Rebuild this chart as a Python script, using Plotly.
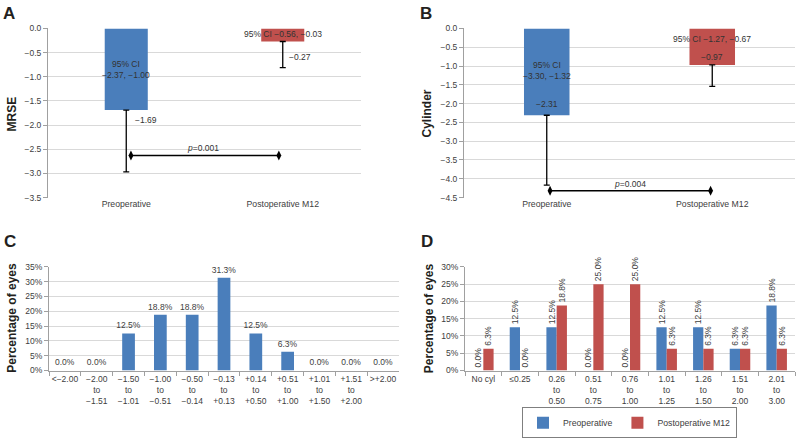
import plotly.graph_objects as go

# ---------------- data ----------------
groups = ["Preoperative", "Postoperative M12"]

mrse_mean = [-1.69, -0.27]
mrse_err_minus = [1.28, 0.54]
mrse_ci = ["95% CI<br>\u22122.37, \u22121.00", "95% CI \u22120.56, \u22120.03"]
mrse_p_text = "<i>p</i>=0.001"
mrse_p_y = -2.63

cyl_mean = [-2.31, -0.97]
cyl_err_minus = [1.86, 0.57]
cyl_ci = ["95% CI<br>\u22123.30, \u22121.32", "95% CI \u22121.27, \u22120.67"]
cyl_p_text = "<i>p</i>=0.004"
cyl_p_y = -4.32

sphere_bins = ["<\u22122.00", "\u22122.00<br>to<br>\u22121.51", "\u22121.50<br>to<br>\u22121.01",
               "\u22121.00<br>to<br>\u22120.51", "\u22120.50<br>to<br>\u22120.14",
               "\u22120.13<br>to<br>+0.13", "+0.14<br>to<br>+0.50", "+0.51<br>to<br>+1.00",
               "+1.01<br>to<br>+1.50", "+1.51<br>to<br>+2.00", ">+2.00"]
sphere_pct = [0.0, 0.0, 12.5, 18.8, 18.8, 31.3, 12.5, 6.3, 0.0, 0.0, 0.0]

cyl_bins = ["No cyl", "\u22640.25", "0.26<br>to<br>0.50", "0.51<br>to<br>0.75",
            "0.76<br>to<br>1.00", "1.01<br>to<br>1.25", "1.26<br>to<br>1.50",
            "1.51<br>to<br>2.00", "2.01<br>to<br>3.00"]
cyl_pre_pct = [0.0, 12.5, 12.5, 0.0, 0.0, 12.5, 12.5, 6.3, 18.8]
cyl_post_pct = [6.3, 0.0, 18.8, 25.0, 25.0, 6.3, 6.3, 6.3, 6.3]

# ---------------- style ----------------
BLUE = "#4A7EBB"
RED = "#C0504D"
TXT = "#404040"
GRID = "#D9D9D9"
AXL = "#A0A0A0"
FONT = "Liberation Sans, Arial, sans-serif"
W, H = 796, 440

def px(x):
    return x / W

def py(y):
    return 1 - y / H

fig = go.Figure()

xpos = [0, 1]

# Panel A
fig.add_trace(go.Bar(x=xpos, y=mrse_mean, width=0.275, marker_color=[BLUE, RED],
                     marker_line_width=0, showlegend=False,
                     error_y=dict(type="data", symmetric=False, array=[0, 0],
                                  arrayminus=mrse_err_minus, color="#000000",
                                  thickness=1.3, width=3),
                     xaxis="x", yaxis="y"))
fig.add_trace(go.Scatter(x=[0.03, 0.975], y=[mrse_p_y, mrse_p_y], mode="lines+markers",
                         line=dict(color="#000000", width=1.3),
                         marker=dict(symbol="diamond-tall", size=7, color="#000000"),
                         showlegend=False, xaxis="x", yaxis="y"))

# Panel B
fig.add_trace(go.Bar(x=xpos, y=cyl_mean, width=0.275, marker_color=[BLUE, RED],
                     marker_line_width=0, showlegend=False,
                     error_y=dict(type="data", symmetric=False, array=[0, 0],
                                  arrayminus=cyl_err_minus, color="#000000",
                                  thickness=1.3, width=3),
                     xaxis="x2", yaxis="y2"))
fig.add_trace(go.Scatter(x=[0.02, 0.99], y=[cyl_p_y, cyl_p_y], mode="lines+markers",
                         line=dict(color="#000000", width=1.3),
                         marker=dict(symbol="diamond-tall", size=7, color="#000000"),
                         showlegend=False, xaxis="x2", yaxis="y2"))

barfont = dict(size=8.5, color=TXT, family=FONT)

# Panel C
fig.add_trace(go.Bar(x=sphere_bins, y=sphere_pct, width=0.4, marker_color=BLUE,
                     marker_line_width=0, showlegend=False,
                     texttemplate="%{y:.1f}%", textposition="outside", cliponaxis=False,
                     constraintext="none", textfont=barfont,
                     xaxis="x3", yaxis="y3"))

# Panel D
fig.add_trace(go.Bar(x=cyl_bins, y=cyl_pre_pct, name="Preoperative", marker_color=BLUE,
                     marker_line_width=0,
                     texttemplate="%{y:.1f}%", textposition="outside", textangle=-90,
                     cliponaxis=False, constraintext="none", textfont=barfont,
                     xaxis="x4", yaxis="y4"))
fig.add_trace(go.Bar(x=cyl_bins, y=cyl_post_pct, name="Postoperative M12", marker_color=RED,
                     marker_line_width=0,
                     texttemplate="%{y:.1f}%", textposition="outside", textangle=-90,
                     cliponaxis=False, constraintext="none", textfont=barfont,
                     xaxis="x4", yaxis="y4"))

tickfont = dict(size=8.5, color=TXT, family=FONT)
catfont = dict(size=8.7, color=TXT, family=FONT)

def yax(domain, rng, dtick, fmt, suffix="", anchor="x"):
    return dict(domain=domain, range=rng, dtick=dtick, tickformat=fmt, ticksuffix=suffix,
                showgrid=True, gridcolor=GRID, gridwidth=1, zeroline=False,
                showline=True, linecolor=AXL, linewidth=1, ticks="outside", ticklen=4,
                tickcolor=AXL, tickfont=tickfont, anchor=anchor, fixedrange=True)

dom_yAB = [py(197), py(24)]
dom_yCD = [py(374), py(268)]
dom_xA = [px(48), px(361)]
dom_xB = [px(464), px(795)]
dom_xC = [px(49), px(399)]
dom_xD = [px(465), px(795)]

def xnum(domain, anchor):
    return dict(domain=domain, range=[-0.5, 1.5], tickvals=xpos, ticktext=groups,
                showgrid=False, zeroline=False, showline=False, ticks="",
                tickfont=catfont, anchor=anchor, fixedrange=True)

def xtop(domain, overl, anchor):
    return dict(domain=domain, range=[-0.5, 1.5], overlaying=overl, side="top",
                tickvals=[0.5], ticks="inside", ticklen=3, tickcolor=AXL,
                showticklabels=False, showgrid=False, zeroline=False,
                showline=True, linecolor=AXL, linewidth=1, anchor=anchor, fixedrange=True)

def xcat(domain, anchor):
    return dict(domain=domain, type="category", showgrid=False, zeroline=False,
                showline=True, linecolor=AXL, linewidth=1, ticks="outside", ticklen=4,
                tickcolor=AXL, tickson="boundaries", tickfont=tickfont, tickangle=0,
                anchor=anchor, fixedrange=True)

fig.update_layout(
    width=W, height=H, margin=dict(l=0, r=0, t=0, b=0),
    paper_bgcolor="white", plot_bgcolor="white",
    font=dict(family=FONT, color=TXT, size=9),
    barmode="group", bargap=0.44, bargroupgap=0,
    xaxis=xnum(dom_xA, "y"),
    yaxis=yax(dom_yAB, [-3.5, 0], 0.5, ".1f", anchor="x"),
    xaxis2=xnum(dom_xB, "y2"),
    yaxis2=yax(dom_yAB, [-4.5, 0], 0.5, ".1f", anchor="x2"),
    xaxis3=xcat(dom_xC, "y3"),
    yaxis3=yax(dom_yCD, [0, 35], 5, "d", "%", anchor="x3"),
    xaxis4=xcat(dom_xD, "y4"),
    yaxis4=yax(dom_yCD, [0, 30], 5, "d", "%", anchor="x4"),
    xaxis5=xtop(dom_xA, "x", "y"),
    xaxis6=xtop(dom_xB, "x2", "y2"),
    legend=dict(orientation="h", x=px(629.5), xanchor="center", y=py(427.5), yanchor="middle",
                bordercolor="#7F7F7F", borderwidth=1, bgcolor="white",
                font=dict(size=8.7, color=TXT, family=FONT), itemwidth=30,
                tracegroupgap=0),
    showlegend=True,
)

ann = []
# panel letters
for letter, x, y in [("A", 1, 9), ("B", 418, 9), ("C", 2, 241.5), ("D", 419, 241.5)]:
    ann.append(dict(text="<b>%s</b>" % letter, x=px(x), y=py(y), xref="paper", yref="paper",
                    xanchor="left", yanchor="middle", showarrow=False,
                    font=dict(size=17, color="#231F20", family=FONT)))
# y axis titles
for t, x, y in [("MRSE", 12, 112), ("Cylinder", 427, 111),
                ("Percentage of eyes", 12, 320), ("Percentage of eyes", 428.5, 321)]:
    ann.append(dict(text="<b>%s</b>" % t, x=px(x), y=py(y), xref="paper", yref="paper",
                    xanchor="center", yanchor="middle", textangle=-90, showarrow=False,
                    font=dict(size=12, color="#231F20", family=FONT)))

lab = dict(size=8.5, color="#333333", family=FONT)
# panel A labels
ann += [
    dict(text=mrse_ci[0], x=0, y=-0.84, xref="x", yref="y", showarrow=False, font=lab,
         xanchor="center", yanchor="middle"),
    dict(text="\u22121.69", x=0.045, y=-1.9, xref="x", yref="y", showarrow=False, font=lab,
         xanchor="left", yanchor="middle"),
    dict(text=mrse_ci[1], x=1, y=-0.12, xref="x", yref="y", showarrow=False, font=lab,
         xanchor="center", yanchor="middle"),
    dict(text="\u22120.27", x=1.03, y=-0.6, xref="x", yref="y", showarrow=False, font=lab,
         xanchor="left", yanchor="middle"),
    dict(text=mrse_p_text, x=0.49, y=mrse_p_y, xref="x", yref="y", showarrow=False, font=lab,
         xanchor="center", yanchor="bottom"),
]
# panel B labels
ann += [
    dict(text=cyl_ci[0], x=0, y=-1.13, xref="x2", yref="y2", showarrow=False, font=lab,
         xanchor="center", yanchor="middle"),
    dict(text="\u22122.31", x=0, y=-2.0, xref="x2", yref="y2", showarrow=False, font=lab,
         xanchor="center", yanchor="middle"),
    dict(text=cyl_ci[1], x=1, y=-0.29, xref="x2", yref="y2", showarrow=False, font=lab,
         xanchor="center", yanchor="middle"),
    dict(text="\u22120.97", x=1, y=-0.76, xref="x2", yref="y2", showarrow=False, font=lab,
         xanchor="center", yanchor="middle"),
    dict(text=cyl_p_text, x=0.5, y=cyl_p_y, xref="x2", yref="y2", showarrow=False, font=lab,
         xanchor="center", yanchor="bottom"),
]
fig.update_layout(annotations=ann)

fig.write_html("out.html", config={"displayModeBar": False},
               post_script="document.body.style.margin='0';document.body.style.overflow='hidden';")
